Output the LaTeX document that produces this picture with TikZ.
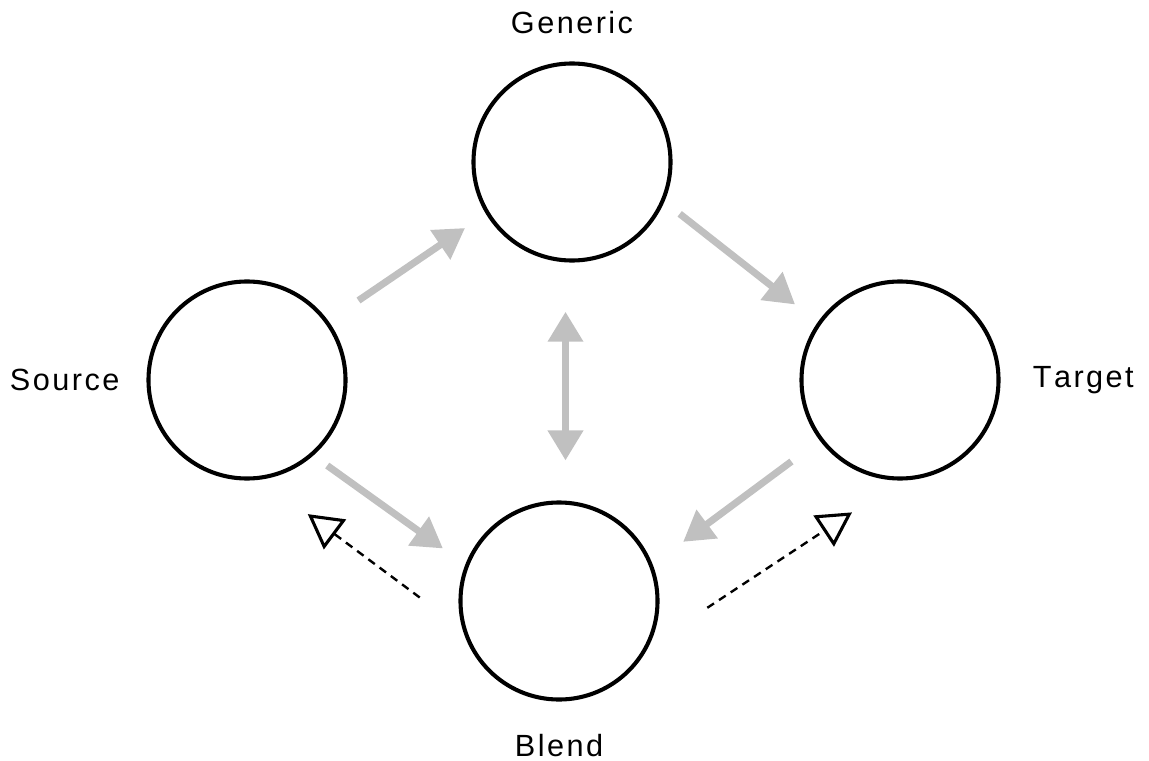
\documentclass[tikz,border=0pt]{standalone}
\usepackage{fontspec}
\setmainfont{Liberation Sans}
\usepackage{tikz}
\usetikzlibrary{arrows.meta,calc,positioning}
\definecolor{flowgray}{RGB}{192,192,192}
\tikzset{
        mspace/.style = {draw, circle, line width=2.9pt,
            minimum size=4.925cm,
            inner sep=0pt, outer sep=0pt},
        tag/.style = {inner sep=0pt,
            font=\fontsize{21.8pt}{26pt}\selectfont\addfontfeature{LetterSpace=8,Kerning=Off}},
        flow/.style = {draw=flowgray, line width=5pt, -{Triangle[length=0.75cm,width=0.85cm]}},
        flowboth/.style = {flow, {Triangle[length=0.75cm,width=0.85cm]}-{Triangle[length=0.75cm,width=0.85cm]}},
        project/.style = {draw, line width=1.7pt, dash pattern=on 0.2cm off 0.15cm,
            -{Triangle[open,length=0.85cm,width=0.92cm,line width=2.2pt]}},
    }

\begin{document}
\begin{tikzpicture}[x=0.025cm,y=-0.025cm]
        \useasboundingbox (0,0) rectangle (1149,761);

        \node[mspace] (generic) at (572,162) {};
        \node[mspace] at ($(generic) + (-325,218)$) (source) {};
        \node[mspace] at ($(generic) + (328,218)$) (target) {};
        \node[mspace] at ($(generic) + (-13,439)$) (blend) {};

        \node[tag, above=0.74cm of generic] (generic-tag) {Generic};
        \node[tag, left=0.72cm of source] (source-tag) {Source};
        \node[tag, right=0.85cm of target] (target-tag) {Target};
        \node[tag, below=0.86cm of blend] (blend-tag) {Blend};

        \draw[flow, shorten <=0.96cm, shorten >=0.68cm] (source.36.5) -- (generic.211);
        \draw[flow, shorten <=0.54cm, shorten >=0.77cm] (generic.337.7) -- (target.145.4);
        \draw[flow, shorten <=0.48cm, shorten >=0.74cm] (source.311.5) -- (blend.159.3);
        \draw[flow, shorten <=0.93cm, shorten >=1.0cm] (target.217.8) -- (blend.21.9);

        \coordinate (axis) at ($(generic.south)!0.5!(blend.north)$);
        \draw[flowboth, shorten <=1.28cm, shorten >=1.05cm] (axis |- generic.south) -- (axis |- blend.north);

        \draw[project, shorten <=1.42cm, shorten >=1.52cm] (blend.198.4) -- (source.277.8);
        \draw[project, shorten <=1.86cm, shorten >=1.54cm] (blend.331.8) -- (target.272);
\end{tikzpicture}
\end{document}
